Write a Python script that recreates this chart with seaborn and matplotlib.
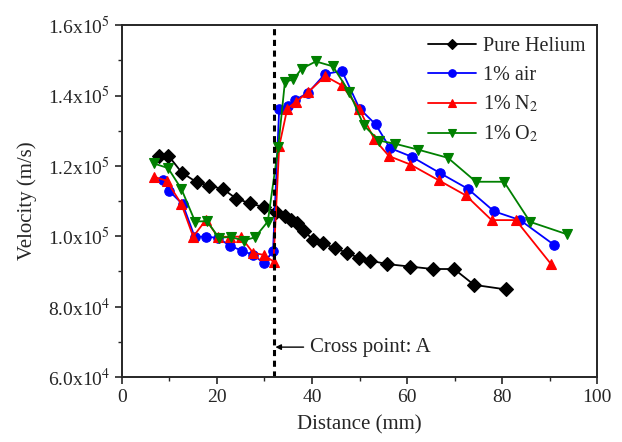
import pandas as pd
import seaborn as sns
import matplotlib.pyplot as plt
from matplotlib.ticker import MultipleLocator

# Values
he_x = [7.8, 9.8, 12.6, 15.7, 18.4, 21.3, 24.1, 26.9, 29.8, 32.4, 34.3, 35.6, 36.8,
        38.3, 40.2, 42.3, 44.8, 47.4, 49.9, 52.2, 55.8, 60.6, 65.4, 69.9, 74.1, 80.8]
he_v = [122900, 122900, 118100, 115400, 114400, 113400, 110700, 109400, 108300, 107000,
        105700, 104700, 103700, 101600, 99000, 98000, 96600, 95300, 93800, 93100,
        92100, 91400, 90700, 90700, 86200, 84900]

air_x = [8.7, 10.0, 12.8, 15.3, 17.8, 20.3, 22.7, 25.3, 27.6, 29.9, 31.8, 33.1, 35.0,
         36.4, 39.2, 42.7, 46.3, 50.0, 53.4, 56.4, 61.0, 66.9, 72.8, 78.3, 83.8, 91.0]
air_v = [116000, 112800, 109100, 99900, 99900, 99500, 97300, 95900, 94700, 92400,
         95800, 136300, 137000, 138700, 140800, 146100, 147000, 136300, 131800, 125100,
         122600, 118000, 113500, 107100, 104600, 97500]

n2_x = [6.8, 9.4, 12.5, 15.0, 17.7, 20.2, 22.7, 25.0, 27.6, 29.9, 31.9, 33.1, 34.8,
        36.6, 39.2, 42.8, 46.3, 49.9, 53.1, 56.2, 60.7, 66.7, 72.4, 77.8, 82.9, 90.3]
n2_v = [116900, 115800, 109200, 99900, 104700, 99800, 99900, 99900, 95300, 94700,
        92800, 125600, 136300, 138200, 141000, 145500, 142900, 136300, 127600, 122800,
        120400, 115900, 111600, 104600, 104600, 92100]

o2_x = [6.7, 9.7, 12.5, 15.4, 17.9, 20.4, 22.9, 25.6, 28.0, 30.7, 32.9, 34.3, 36.1,
        37.8, 40.8, 44.4, 47.8, 50.9, 54.1, 57.5, 62.4, 68.6, 74.5, 80.4, 85.9, 93.6]
o2_v = [120700, 119400, 113500, 104200, 104300, 99600, 99800, 98800, 99700, 104200,
        125400, 143900, 144600, 147600, 149700, 148300, 141100, 131500, 127200, 126300,
        124600, 122300, 115500, 115500, 104100, 100600]

cross_x = 32.0
y_ticks = [6.0e4, 8.0e4, 1.0e5, 1.2e5, 1.4e5, 1.6e5]
y_tick_labels = ["6.0x10$^{4}$", "8.0x10$^{4}$", "1.0x10$^{5}$",
                 "1.2x10$^{5}$", "1.4x10$^{5}$", "1.6x10$^{5}$"]
x_ticks = [0, 20, 40, 60, 80, 100]

sns.set_style("ticks")
plt.rcParams["font.family"] = ["Liberation Serif", "DejaVu Serif"]
plt.rcParams["mathtext.fontset"] = "stix"

fig = plt.figure(figsize=(6.22, 4.42), dpi=100)
ax = fig.add_axes([0.196, 0.147, 0.764, 0.796])

series = [
    (he_x, he_v, "Pure Helium", "black", "D"),
    (air_x, air_v, "1% air", "blue", "o"),
    (n2_x, n2_v, "1% N$_2$", "red", "^"),
    (o2_x, o2_v, "1% O$_2$", "green", "v"),
]
for xs, vs, name, col, mk in series:
    df = pd.DataFrame({"distance": xs, "velocity": vs})
    sns.lineplot(data=df, x="distance", y="velocity", ax=ax, color=col, marker=mk,
                 markersize=6.8, markeredgecolor=col, markeredgewidth=0.8,
                 linewidth=1.3, label=name, sort=False, estimator=None)

ax.axvline(cross_x, color="black", linestyle=(0, (2, 1.5)), linewidth=2.2)
ax.annotate("Cross point: A", xy=(cross_x + 0.3, 6.85e4), xytext=(39.5, 6.85e4),
            va="center", ha="left", fontsize=15,
            arrowprops=dict(arrowstyle="-|>", color="black", lw=1.0,
                            mutation_scale=8, shrinkA=2, shrinkB=0))

ax.set_xlim(0, 100)
ax.set_ylim(6.0e4, 1.6e5)
ax.set_xticks(x_ticks)
ax.set_yticks(y_ticks)
ax.set_yticklabels(y_tick_labels)
ax.xaxis.set_minor_locator(MultipleLocator(10))
ax.yaxis.set_minor_locator(MultipleLocator(1e4))
ax.tick_params(which="major", direction="out", length=5, width=1.2, labelsize=14)
ax.tick_params(which="minor", direction="out", length=3, width=1.0)
for sp in ax.spines.values():
    sp.set_linewidth(1.4)
    sp.set_visible(True)

ax.set_xlabel("Distance (mm)", fontsize=15, labelpad=7)
ax.set_ylabel("Velocity (m/s)", fontsize=15, labelpad=8)

ax.legend(loc="upper right", frameon=False, fontsize=14.5, handlelength=2.4,
          handletextpad=0.3, labelspacing=0.46, borderaxespad=0.2,
          markerscale=0.8)

fig.savefig("out.png", dpi=100)
